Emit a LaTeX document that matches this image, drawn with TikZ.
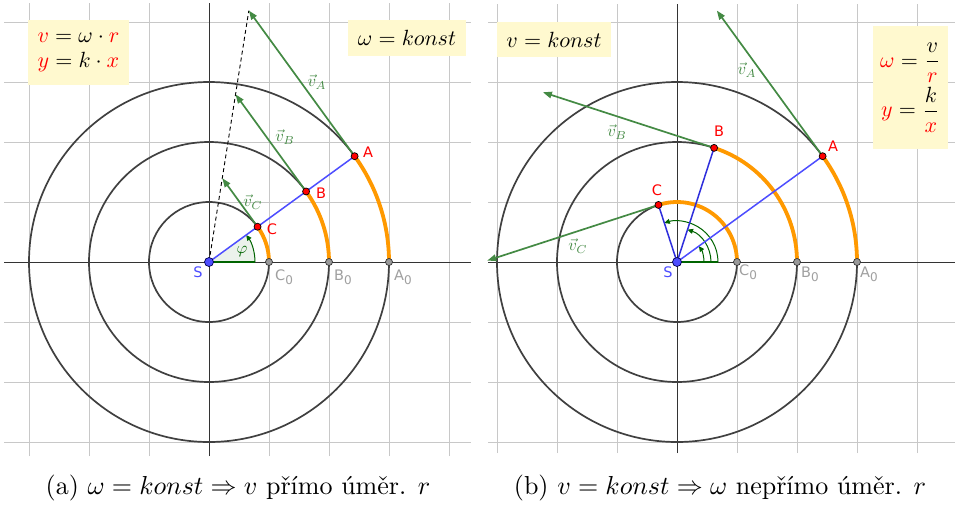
\documentclass[tikz,border=0pt]{standalone}
\usepackage{amsmath}
\usepackage{fontspec}
\newfontfamily\labfont{DejaVu Sans}
\usetikzlibrary{arrows.meta,calc}
\definecolor{gridc}{HTML}{C8C8C8}
\definecolor{circc}{HTML}{404040}
\definecolor{orng}{HTML}{FF9900}
\definecolor{bl}{HTML}{4D4DFF}
\definecolor{dbl}{HTML}{2E2EDC}
\definecolor{vg}{HTML}{448A44}
\definecolor{ag}{HTML}{006400}
\definecolor{boxc}{HTML}{FFF9CF}
\definecolor{lblg}{HTML}{A0A0A0}
\definecolor{dotg}{HTML}{999999}
\newcommand{\zsub}[1]{\raisebox{-4pt}{\fontsize{12}{13}\selectfont #1}}
\tikzset{
  gridline/.style={gridc, line width=1pt},
  axisline/.style={black!80, line width=1pt},
  circ/.style={circc, line width=1.7pt},
  orarc/.style={orng, line width=3.8pt},
  radline/.style={bl, line width=1.5pt},
  radlined/.style={dbl, line width=1.5pt},
  vecarrow/.style={vg, line width=1.7pt, -{Triangle[length=9pt,width=6.5pt]}},
  angarc/.style={ag, line width=1pt, -{Triangle[length=5.5pt,width=5pt]}},
  angbase/.style={ag, line width=1.6pt},
  reddot/.style={circle, fill=red, draw=black, line width=0.7pt, inner sep=0pt, minimum size=7pt},
  graydot/.style={circle, fill=dotg, draw=black!80, line width=0.7pt, inner sep=0pt, minimum size=7pt},
  sdot/.style={circle, fill=bl, draw=black!70!blue, line width=0.7pt, inner sep=0pt, minimum size=9pt},
  plabel/.style={font=\labfont\fontsize{14.5}{16}\selectfont, red, inner sep=0pt},
  slabel/.style={font=\labfont\fontsize{14.5}{16}\selectfont, bl, inner sep=0pt},
  zlabel/.style={font=\labfont\fontsize{14.5}{16}\selectfont, lblg, inner sep=0pt, anchor=base west},
  vlabel/.style={vg, inner sep=0pt, scale=1.65},
  boxbg/.style={fill=boxc, inner sep=0pt},
  boxtext/.style={inner sep=0pt, align=center, scale=2.2},
  captext/.style={anchor=base, inner sep=0pt, scale=2.6}
}
\begin{document}
\begin{tikzpicture}[x=1pt,y=-1pt]
\useasboundingbox (0,0) rectangle (958,507);
\fill[white] (0,0) rectangle (958,507);

% ================= LEFT PANEL =================
\begin{scope}[shift={(209,262)}, y=1pt]
  \foreach \g in {-180,-120,-60,60,120,180,240} {
    \draw[gridline] (\g,-194) -- (\g,259);
    \draw[gridline] (-205,\g) -- (262,\g);
  }
  \draw[axisline] (0,-194) -- (0,259);
  \draw[axisline] (-205,0) -- (262,0);
  \coordinate (lS) at (0,0);
  \coordinate (lA) at (36:180);
  \coordinate (lB) at (36:120);
  \coordinate (lC) at (36:60);
  \coordinate (lA0) at (180,0);
  \coordinate (lB0) at (120,0);
  \coordinate (lC0) at (60,0);
  \coordinate (lTA) at ($(36:180)+(126:180)$);
  \coordinate (lTB) at ($(36:120)+(126:120)$);
  \coordinate (lTC) at ($(36:60)+(126:60)$);
  \draw[circ] (lS) circle (180);
  \draw[circ] (lS) circle (120);
  \draw[circ] (lS) circle (60);
  \fill[ag, opacity=0.08] (lS) -- (46,0) arc (0:36:46) -- cycle;
  \draw[angbase] (lS) -- (46,0);
  \draw[angarc] (46,0) arc (0:36:46);
  \node[vlabel, ag] (lphi) at (33,10) {$\varphi$};
  \draw[orarc] (lA0) arc (0:36:180);
  \draw[orarc] (lB0) arc (0:36:120);
  \draw[orarc] (lC0) arc (0:36:60);
  \draw[black, line width=0.9pt, dash pattern=on 4pt off 3pt] (lS) -- (lTA);
  \draw[radline] (lS) -- (lA);
  \draw[vecarrow] (lA) -- (lTA);
  \draw[vecarrow] (lB) -- (lTB);
  \draw[vecarrow] (lC) -- (lTC);
  \node[vlabel] (lvA) at (108,180) {$\vec{v}_A$};
  \node[vlabel] (lvB) at (76,125) {$\vec{v}_B$};
  \node[vlabel] (lvC) at (44,60) {$\vec{v}_C$};
  \node[graydot] (lA0d) at (lA0) {};
  \node[graydot] (lB0d) at (lB0) {};
  \node[graydot] (lC0d) at (lC0) {};
  \node[reddot] (lAd) at (lA) {};
  \node[reddot] (lBd) at (lB) {};
  \node[reddot] (lCd) at (lC) {};
  \node[sdot] (lSd) at (lS) {};
  \node[plabel] (lAl) at (159,110) {A};
  \node[plabel] (lBl) at (112,69) {B};
  \node[plabel] (lCl) at (63,33) {C};
  \node[slabel] (lSl) at (-11,-10) {S};
  \node[zlabel] (lA0l) at (185,-18) {A\zsub{0}};
  \node[zlabel] (lB0l) at (125,-18) {B\zsub{0}};
  \node[zlabel] (lC0l) at (66,-18) {C\zsub{0}};
\end{scope}

% ================= RIGHT PANEL =================
\begin{scope}[shift={(677,262)}, y=1pt]
  \foreach \g in {-180,-120,-60,60,120,180,240} {
    \draw[gridline] (\g,-191) -- (\g,258);
    \draw[gridline] (-189,\g) -- (278,\g);
  }
  \draw[axisline] (0,-191) -- (0,258);
  \draw[axisline] (-189,0) -- (278,0);
  \coordinate (rS) at (0,0);
  \coordinate (rA) at (36:180);
  \coordinate (rB) at (72:120);
  \coordinate (rC) at (108:60);
  \coordinate (rA0) at (180,0);
  \coordinate (rB0) at (120,0);
  \coordinate (rC0) at (60,0);
  \coordinate (rTA) at ($(36:180)+(126:180)$);
  \coordinate (rTB) at ($(72:120)+(162:180)$);
  \coordinate (rTC) at ($(108:60)+(198:180)$);
  \draw[circ] (rS) circle (180);
  \draw[circ] (rS) circle (120);
  \draw[circ] (rS) circle (60);
  \draw[orarc] (rA0) arc (0:36:180);
  \draw[orarc] (rB0) arc (0:72:120);
  \draw[orarc] (rC0) arc (0:108:60);
  \draw[angbase] (rS) -- (41,0);
  \draw[angarc] (27,0) arc (0:36:27);
  \draw[angarc] (34,0) arc (0:72:34);
  \draw[angarc] (41,0) arc (0:108:41);
  \draw[radline] (rS) -- (rA);
  \draw[radlined] (rS) -- (rB);
  \draw[radlined] (rS) -- (rC);
  \draw[vecarrow] (rA) -- (rTA);
  \draw[vecarrow] (rB) -- (rTB);
  \draw[vecarrow] (rC) -- (rTC);
  \node[vlabel] (rvA) at (70,192) {$\vec{v}_A$};
  \node[vlabel] (rvB) at (-60,130) {$\vec{v}_B$};
  \node[vlabel] (rvC) at (-99,16) {$\vec{v}_C$};
  \node[graydot] (rA0d) at (rA0) {};
  \node[graydot] (rB0d) at (rB0) {};
  \node[graydot] (rC0d) at (rC0) {};
  \node[reddot] (rAd) at (rA) {};
  \node[reddot] (rBd) at (rB) {};
  \node[reddot] (rCd) at (rC) {};
  \node[sdot] (rSd) at (rS) {};
  \node[plabel] (rAl) at (156,116) {A};
  \node[plabel] (rBl) at (42,131) {B};
  \node[plabel] (rCl) at (-20,72) {C};
  \node[slabel] (rSl) at (-9,-10) {S};
  \node[zlabel] (rA0l) at (183,-15) {A\zsub{0}};
  \node[zlabel] (rB0l) at (124,-15) {B\zsub{0}};
  \node[zlabel] (rC0l) at (62,-13) {C\zsub{0}};
\end{scope}

% ================= BOXES =================
\node[boxbg, minimum width=101pt, minimum height=65pt] (box1) at (78.5,52.5) {};
\node[boxtext] (box1t) at (box1.center)
  {$\textcolor{red}{v}=\omega\cdot\textcolor{red}{r}$\\[-0.5pt]$\textcolor{red}{y}=k\cdot\textcolor{red}{x}$};
\node[boxbg, minimum width=118pt, minimum height=36pt] (box2) at (407,38) {};
\node[boxtext] (box2t) at (box2.center) {$\omega=konst$};
\node[boxbg, minimum width=114pt, minimum height=35pt] (box3) at (554,39.5) {};
\node[boxtext] (box3t) at (box3.center) {$v=konst$};
\node[boxbg, minimum width=75pt, minimum height=123pt] (box4) at (910.5,87.5) {};
\node[boxtext] (box4t) at (box4.center)
  {$\textcolor{red}{\omega}=\dfrac{v}{\textcolor{red}{r}}$\\[1pt]$\textcolor{red}{y}=\dfrac{k}{\textcolor{red}{x}}$};

% ================= CAPTIONS =================
\node[captext] (capa) at (238,494) {(a) $\omega=konst\Rightarrow v$ přímo úměr. $r$};
\node[captext] (capb) at (720,494) {(b) $v=konst\Rightarrow \omega$ nepřímo úměr. $r$};
\end{tikzpicture}
\end{document}
